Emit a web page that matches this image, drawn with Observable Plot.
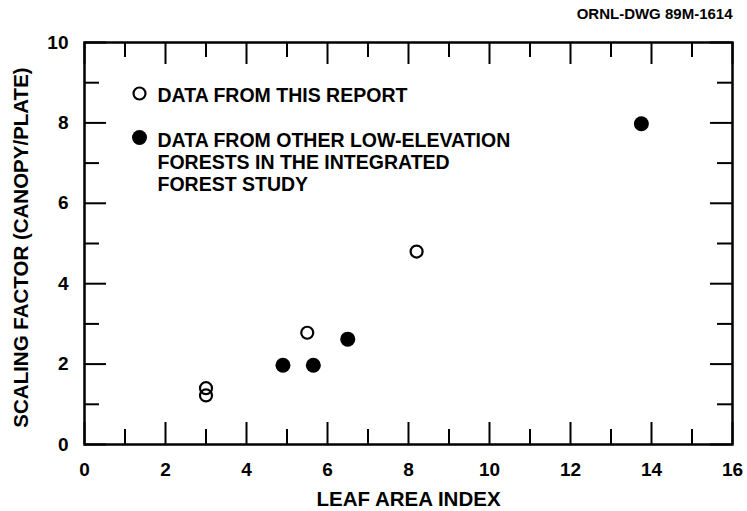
<!DOCTYPE html>
<html>
<head>
<meta charset="utf-8">
<script src="https://cdn.jsdelivr.net/npm/d3@7"></script>
<script src="https://cdn.jsdelivr.net/npm/@observablehq/plot@0.6"></script>
<style>
  html, body { margin: 0; padding: 0; background: #fff; }
</style>
</head>
<body>
<div id="chart"></div>
<script>
// Data: open circles = data from this report; filled = other low-elevation forests
const laiOpen = [3.0, 3.0, 5.5, 8.2];
const sfOpen = [1.4, 1.22, 2.78, 4.8];
const laiFilled = [4.9, 5.65, 6.5, 13.75];
const sfFilled = [1.97, 1.97, 2.62, 7.98];

const xMajorTicks = [0, 2, 4, 6, 8, 10, 12, 14, 16];
const xMinorTicks = [1, 3, 5, 7, 9, 11, 13, 15];
const yMajorTicks = [0, 2, 4, 6, 8, 10];
const yMinorTicks = [1, 3, 5, 7, 9];

const legendLabels = [
  "DATA FROM THIS REPORT",
  "DATA FROM OTHER LOW-ELEVATION\nFORESTS IN THE INTEGRATED\nFOREST STUDY"
];
const xTitle = "LEAF AREA INDEX";
const yTitle = "SCALING FACTOR (CANOPY/PLATE)";
const drawingId = "ORNL-DWG 89M-1614";

const openPts = laiOpen.map((x, i) => ({x, y: sfOpen[i]}));
const filledPts = laiFilled.map((x, i) => ({x, y: sfFilled[i]}));

const W = 747, H = 511, mL = 84, mR = 15, mT = 42, mB = 67;
const fw = W - mL - mR, fh = H - mT - mB;
const major = 22, minor = 15;

const plot = Plot.plot({
  width: W, height: H,
  marginLeft: mL, marginRight: mR, marginTop: mT, marginBottom: mB,
  x: {domain: [0, 16], axis: null},
  y: {domain: [0, 10], axis: null},
  style: {fontFamily: "'Liberation Sans', Arial, sans-serif", fontWeight: "bold", color: "black", background: "white"},
  marks: [
    // inward ticks, bottom & top
    Plot.tickX(xMajorTicks, {x: d => d, insetTop: fh - major, stroke: "black", strokeWidth: 2}),
    Plot.tickX(xMinorTicks, {x: d => d, insetTop: fh - minor, stroke: "black", strokeWidth: 2}),
    Plot.tickX(xMajorTicks, {x: d => d, insetBottom: fh - major, stroke: "black", strokeWidth: 2}),
    Plot.tickX(xMinorTicks, {x: d => d, insetBottom: fh - minor, stroke: "black", strokeWidth: 2}),
    // inward ticks, left & right
    Plot.tickY(yMajorTicks, {y: d => d, insetRight: fw - major, stroke: "black", strokeWidth: 2}),
    Plot.tickY(yMinorTicks, {y: d => d, insetRight: fw - minor, stroke: "black", strokeWidth: 2}),
    Plot.tickY(yMajorTicks, {y: d => d, insetLeft: fw - major, stroke: "black", strokeWidth: 2}),
    Plot.tickY(yMinorTicks, {y: d => d, insetLeft: fw - minor, stroke: "black", strokeWidth: 2}),
    Plot.frame({stroke: "black", strokeWidth: 2.5}),
    Plot.axisX({ticks: xMajorTicks, tickSize: 0, tickPadding: 18, fontSize: 19, label: null, tickFormat: d => String(d)}),
    Plot.axisY({ticks: yMajorTicks, tickSize: 0, tickPadding: 16, fontSize: 19, label: null, tickFormat: d => String(d)}),
    // titles
    Plot.text([xTitle], {text: d => d, frameAnchor: "bottom", dy: 55, lineAnchor: "middle", textAnchor: "middle", fontSize: 20.5, fontWeight: "bold"}),
    Plot.text([yTitle], {text: d => d, frameAnchor: "left", dx: -63, dy: 4, rotate: -90, lineAnchor: "middle", textAnchor: "middle", fontSize: 20.5, fontWeight: "bold"}),
    Plot.text([drawingId], {text: d => d, frameAnchor: "top-right", dy: -28, lineAnchor: "middle", textAnchor: "end", fontSize: 15, fontWeight: "bold"}),
    // legend
    Plot.dot([legendLabels[0]], {frameAnchor: "top-left", dx: 55, dy: 51, r: 6, stroke: "black", strokeWidth: 2.2, fill: "none"}),
    Plot.text([legendLabels[0]], {text: d => d, frameAnchor: "top-left", dx: 73, dy: 53, lineAnchor: "middle", textAnchor: "start", fontSize: 19.5, fontWeight: "bold"}),
    Plot.dot([legendLabels[1]], {frameAnchor: "top-left", dx: 55, dy: 95, r: 7.5, fill: "black"}),
    Plot.text([legendLabels[1]], {text: d => d, frameAnchor: "top-left", dx: 73, dy: 119, lineAnchor: "middle", textAnchor: "start", lineHeight: 1.13, fontSize: 19.5, fontWeight: "bold"}),
    // data
    Plot.dot(openPts, {x: "x", y: "y", r: 6, stroke: "black", strokeWidth: 2.2, fill: "none"}),
    Plot.dot(filledPts, {x: "x", y: "y", r: 7.5, fill: "black"})
  ]
});
document.getElementById("chart").appendChild(plot);
</script>
</body>
</html>
